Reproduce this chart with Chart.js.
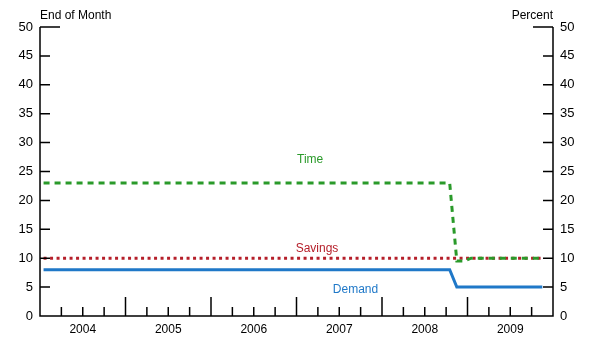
<!DOCTYPE html>
<html>
<head>
<meta charset="utf-8">
<script src="https://cdn.jsdelivr.net/npm/chart.js@4"></script>
<style>
	html, body { margin: 0; padding: 0; background: #fff; }
	#wrap { width: 600px; height: 352px; }
</style>
</head>
<body>
<div id="wrap"><canvas id="chart"></canvas></div>
<script>
// Datos mensuales, ene 2004 - nov 2009
const firstYear = 2004;
const years = ['2004', '2005', '2006', '2007', '2008', '2009'];
const yTicks = [0, 5, 10, 15, 20, 25, 30, 35, 40, 45, 50];

const demand = [
	8, 8, 8, 8, 8, 8, 8, 8, 8, 8, 8, 8,
	8, 8, 8, 8, 8, 8, 8, 8, 8, 8, 8, 8,
	8, 8, 8, 8, 8, 8, 8, 8, 8, 8, 8, 8,
	8, 8, 8, 8, 8, 8, 8, 8, 8, 8, 8, 8,
	8, 8, 8, 8, 8, 8, 8, 8, 8, 8, 5, 5,
	5, 5, 5, 5, 5, 5, 5, 5, 5, 5, 5
];
const time = [
	23, 23, 23, 23, 23, 23, 23, 23, 23, 23, 23, 23,
	23, 23, 23, 23, 23, 23, 23, 23, 23, 23, 23, 23,
	23, 23, 23, 23, 23, 23, 23, 23, 23, 23, 23, 23,
	23, 23, 23, 23, 23, 23, 23, 23, 23, 23, 23, 23,
	23, 23, 23, 23, 23, 23, 23, 23, 23, 23, 9.5, 9.5,
	10, 10, 10, 10, 10, 10, 10, 10, 10, 10, 10
];
const savings = [
	10, 10, 10, 10, 10, 10, 10, 10, 10, 10, 10, 10,
	10, 10, 10, 10, 10, 10, 10, 10, 10, 10, 10, 10,
	10, 10, 10, 10, 10, 10, 10, 10, 10, 10, 10, 10,
	10, 10, 10, 10, 10, 10, 10, 10, 10, 10, 10, 10,
	10, 10, 10, 10, 10, 10, 10, 10, 10, 10, 10, 10,
	10, 10, 10, 10, 10, 10, 10, 10, 10, 10, 10
];

const labelsTexto = [
	{ text: 'Time', x: 2007.16, y: 27, color: '#2a9a2a' },
	{ text: 'Savings', x: 2007.24, y: 11.7, color: '#b51f2a' },
	{ text: 'Demand', x: 2007.69, y: 4.5, color: '#1f78c8' }
];

const COLOR_TIME = '#2a9a2a';
const COLOR_SAVINGS = '#b51f2a';
const COLOR_DEMAND = '#1f78c8';
const FONT = 'Liberation Sans, Arial, sans-serif';

// punto a mitad de mes
function toPoints(serie) {
	return serie.map((v, i) => ({ x: firstYear + (i + 0.5) / 12, y: v }));
}

// Ejes y marcas dibujados a mano
const ejesPlugin = {
	id: 'ejes',
	afterDraw(chart) {
		const ctx = chart.ctx;
		const xs = chart.scales.x;
		const yl = chart.scales.y;
		const a = chart.chartArea;
		ctx.save();
		ctx.strokeStyle = '#000';
		ctx.lineWidth = 1.5;
		ctx.beginPath();
		ctx.moveTo(a.left, a.top);
		ctx.lineTo(a.left, a.bottom);
		ctx.lineTo(a.right, a.bottom);
		ctx.lineTo(a.right, a.top);
		ctx.stroke();

		// marcas del eje y
		yTicks.forEach(v => {
			if (v === 0) return;
			const py = yl.getPixelForValue(v);
			const len = v === 50 ? 20 : 10;
			ctx.beginPath();
			ctx.moveTo(a.left, py);
			ctx.lineTo(a.left + len, py);
			ctx.moveTo(a.right, py);
			ctx.lineTo(a.right - len, py);
			ctx.stroke();
		});

		// marcas trimestrales del eje x
		for (let q = 1; q < years.length * 4; q++) {
			const px = xs.getPixelForValue(firstYear + q / 4);
			const len = q % 4 === 0 ? 19 : 9;
			ctx.beginPath();
			ctx.moveTo(px, a.bottom);
			ctx.lineTo(px, a.bottom - len);
			ctx.stroke();
		}

		// textos
		ctx.font = '12px ' + FONT;
		ctx.fillStyle = '#000';
		ctx.textBaseline = 'bottom';
		ctx.textAlign = 'left';
		ctx.fillText('End of Month', a.left, a.top - 5);
		ctx.textAlign = 'right';
		ctx.fillText('Percent', a.right, a.top - 5);

		ctx.textAlign = 'center';
		ctx.textBaseline = 'middle';
		labelsTexto.forEach(l => {
			ctx.fillStyle = l.color;
			ctx.fillText(l.text, xs.getPixelForValue(l.x), yl.getPixelForValue(l.y));
		});
		ctx.restore();
	}
};

const escalaY = (pos) => ({
	type: 'linear',
	position: pos,
	min: 0,
	max: 50,
	border: { display: false },
	grid: { display: false, drawTicks: false },
	ticks: {
		stepSize: 5,
		padding: 7,
		color: '#000',
		font: { family: FONT, size: 13 }
	},
	afterFit(scale) { scale.width = pos === 'left' ? 40 : 47; }
});

new Chart(document.getElementById('chart'), {
	type: 'line',
	data: {
		datasets: [
			{
				label: 'Time',
				data: toPoints(time),
				borderColor: COLOR_TIME,
				borderWidth: 3,
				borderDash: [6, 5],
				pointRadius: 0,
				tension: 0
			},
			{
				label: 'Savings',
				data: toPoints(savings),
				borderColor: COLOR_SAVINGS,
				borderWidth: 3,
				borderDash: [3, 3.5],
				pointRadius: 0,
				tension: 0
			},
			{
				label: 'Demand',
				data: toPoints(demand),
				borderColor: COLOR_DEMAND,
				borderWidth: 3,
				pointRadius: 0,
				tension: 0
			}
		]
	},
	options: {
		responsive: true,
		maintainAspectRatio: false,
		animation: false,
		layout: { padding: { top: 27, left: 0, right: 0, bottom: 0 } },
		plugins: {
			legend: { display: false },
			tooltip: { enabled: false }
		},
		scales: {
			x: {
				type: 'linear',
				min: firstYear,
				max: firstYear + years.length,
				border: { display: false },
				grid: { display: false, drawTicks: false },
				ticks: {
					stepSize: 0.5,
					autoSkip: false,
					maxRotation: 0,
					padding: 6,
					color: '#000',
					font: { family: FONT, size: 12 },
					callback: function (value) {
						const idx = value - firstYear - 0.5;
						return Number.isInteger(idx) ? years[idx] : '';
					}
				},
				afterFit(scale) { scale.height = 36; }
			},
			y: escalaY('left'),
			y2: escalaY('right')
		}
	},
	plugins: [ejesPlugin]
});
</script>
</body>
</html>
